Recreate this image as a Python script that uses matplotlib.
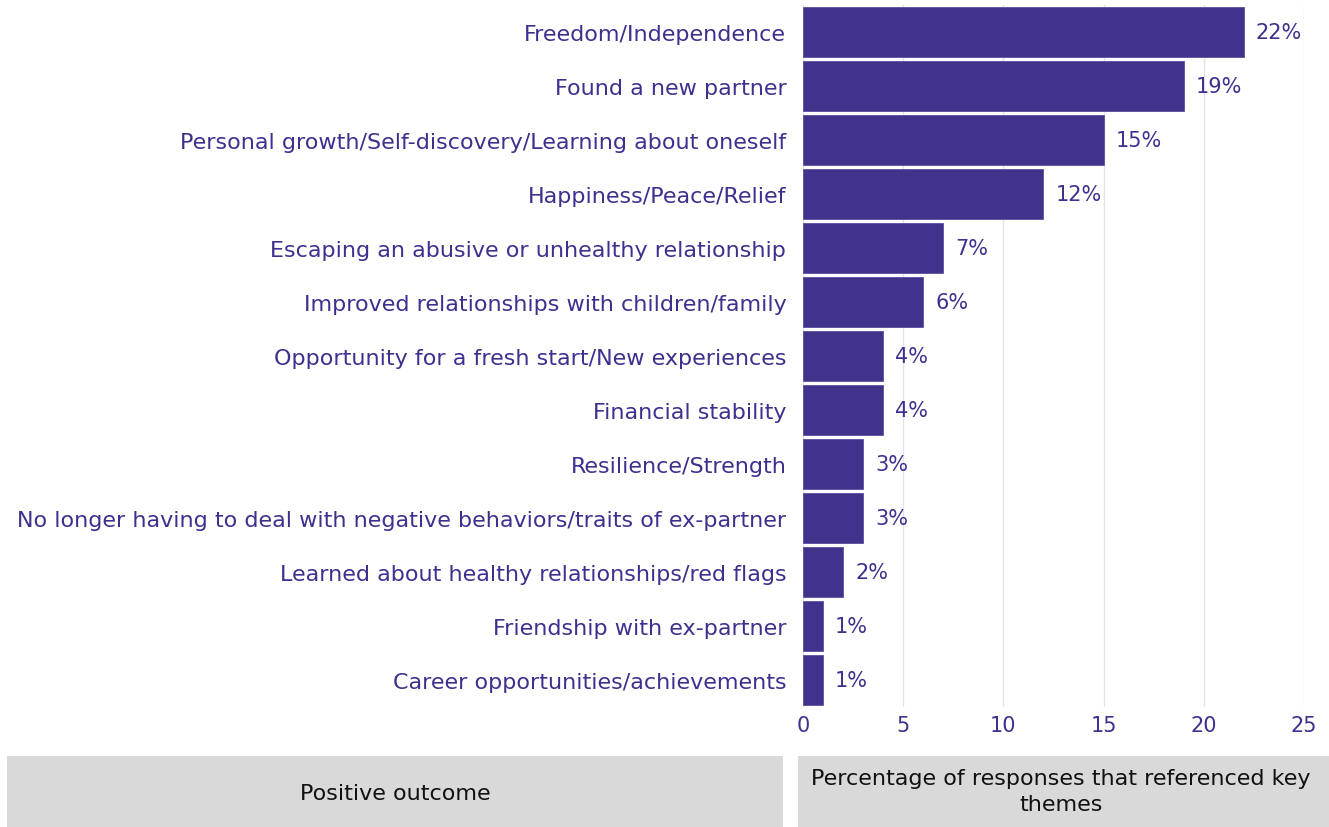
import matplotlib.pyplot as plt
from matplotlib.patches import Rectangle

outcomes = [
    'Freedom/Independence',
    'Found a new partner',
    'Personal growth/Self-discovery/Learning about oneself',
    'Happiness/Peace/Relief',
    'Escaping an abusive or unhealthy relationship',
    'Improved relationships with children/family',
    'Opportunity for a fresh start/New experiences',
    'Financial stability',
    'Resilience/Strength',
    'No longer having to deal with negative behaviors/traits of ex-partner',
    'Learned about healthy relationships/red flags',
    'Friendship with ex-partner',
    'Career opportunities/achievements',
]
percent = [22, 19, 15, 12, 7, 6, 4, 4, 3, 3, 2, 1, 1]
x_ticks = [0, 5, 10, 15, 20, 25]

bar_color = '#41338c'
text_color = '#3f2f8f'
plt.rcParams['font.family'] = ['DejaVu Sans']

fig = plt.figure(figsize=(13.29, 8.28), dpi=100)
ax = fig.add_axes([803 / 1329, 1 - 708 / 828, 501 / 1329, 702 / 828])

y = list(range(len(outcomes)))
ax.barh(y, percent, height=0.92, color=bar_color, edgecolor='#5a4fa0', linewidth=0.6, zorder=3)
for yi, v in zip(y, percent):
    ax.text(v + 0.6, yi, f'{v}%', va='center', ha='left', fontsize=15, color=text_color)

ax.set_xlim(0, 25)
ax.set_ylim(len(outcomes) - 0.5, -0.5)
ax.set_xticks(x_ticks)
ax.set_yticks(y)
ax.set_yticklabels(outcomes, fontsize=16, color=text_color)
ax.tick_params(axis='x', length=0, labelsize=15, labelcolor=text_color, pad=6)
ax.tick_params(axis='y', length=0, labelcolor=text_color, pad=12)
ax.grid(axis='x', color='#e3e2f0', linewidth=1, zorder=0)
for s in ax.spines.values():
    s.set_visible(False)

# header boxes under the chart
fig.patches.append(Rectangle((7 / 1329, 0), 776 / 1329, 71 / 828, transform=fig.transFigure,
                             facecolor='#d9d9d9', edgecolor='none'))
fig.patches.append(Rectangle((798 / 1329, 0), 531 / 1329, 71 / 828, transform=fig.transFigure,
                             facecolor='#d9d9d9', edgecolor='none'))
fig.text(395 / 1329, 1 - 794 / 828, 'Positive outcome', ha='center', va='center', fontsize=16, color='#111111')
fig.text(1061 / 1329, 1 - 792 / 828, 'Percentage of responses that referenced key\nthemes',
         ha='center', va='center', fontsize=16, color='#111111', linespacing=1.4)

plt.savefig('out.png', dpi=100)
